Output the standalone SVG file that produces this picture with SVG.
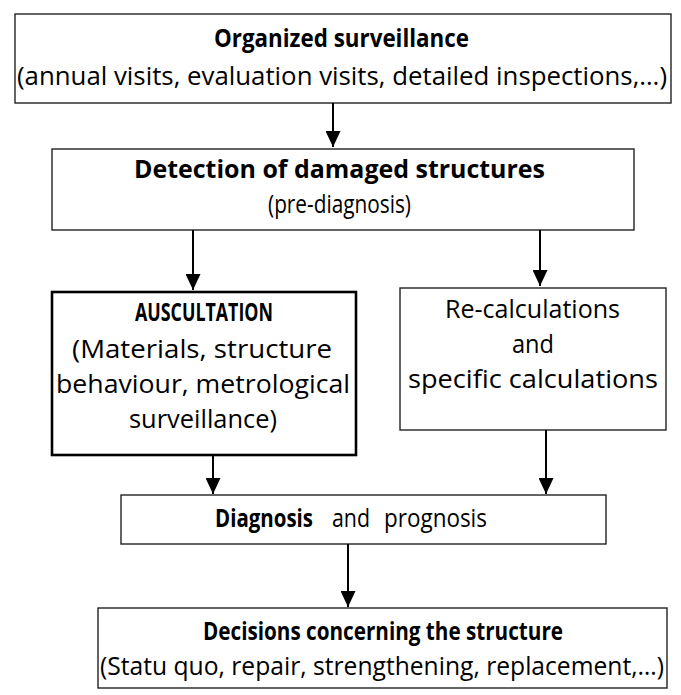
<svg xmlns="http://www.w3.org/2000/svg" width="681" height="695" viewBox="0 0 681 695">
<style>
.box{fill:#fff;stroke:#222;stroke-width:1.4}
.thick{fill:#fff;stroke:#000;stroke-width:2.6}
text{font-family:"Open Sans","Noto Sans","Liberation Sans",sans-serif;font-size:25px;fill:#000}
.b{font-weight:bold}
.conn line{stroke:#000;stroke-width:2}
</style>
<defs>
<marker id="ah" markerUnits="userSpaceOnUse" markerWidth="16" markerHeight="15" refX="16" refY="7.5" orient="auto">
<path d="M0,0 L16,7.5 L0,15 z" fill="#000"/>
</marker>
</defs>
<g id="n1">
<rect class="box" x="15" y="14" width="656" height="89"/>
<text class="b" x="214" y="47" textLength="255" lengthAdjust="spacingAndGlyphs">Organized surveillance</text>
<text x="17" y="85" textLength="650" lengthAdjust="spacingAndGlyphs">(annual visits, evaluation visits, detailed inspections,…)</text>
</g>
<g id="n2">
<rect class="box" x="52" y="149" width="582" height="81"/>
<text class="b" x="134" y="178" textLength="411" lengthAdjust="spacingAndGlyphs">Detection of damaged structures</text>
<text x="268" y="213" textLength="143" lengthAdjust="spacingAndGlyphs">(pre-diagnosis)</text>
</g>
<g id="n3">
<rect class="thick" x="52" y="292" width="304" height="163"/>
<text class="b" x="135" y="321" textLength="138" lengthAdjust="spacingAndGlyphs">AUSCULTATION</text>
<text x="72" y="358" textLength="260" lengthAdjust="spacingAndGlyphs">(Materials, structure</text>
<text x="56" y="393" textLength="294" lengthAdjust="spacingAndGlyphs">behaviour, metrological</text>
<text x="129" y="428" textLength="148" lengthAdjust="spacingAndGlyphs">surveillance)</text>
</g>
<g id="n4">
<rect class="box" x="400" y="288" width="266" height="142"/>
<text x="445" y="318" textLength="175" lengthAdjust="spacingAndGlyphs">Re-calculations</text>
<text x="512" y="353" textLength="42" lengthAdjust="spacingAndGlyphs">and</text>
<text x="408" y="388" textLength="250" lengthAdjust="spacingAndGlyphs">specific calculations</text>
</g>
<g id="n5">
<rect class="box" x="121" y="495" width="485" height="49"/>
<text y="527"><tspan class="b" x="215" textLength="98" lengthAdjust="spacingAndGlyphs">Diagnosis</tspan><tspan x="332" textLength="38" lengthAdjust="spacingAndGlyphs">and</tspan><tspan x="384" textLength="103" lengthAdjust="spacingAndGlyphs">prognosis</tspan></text>
</g>
<g id="n6">
<rect class="box" x="98" y="608" width="569" height="80"/>
<text class="b" x="203" y="640" textLength="360" lengthAdjust="spacingAndGlyphs">Decisions concerning the structure</text>
<text x="100" y="675" textLength="564" lengthAdjust="spacingAndGlyphs">(Statu quo, repair, strengthening, replacement,…)</text>
</g>
<g id="connectors" class="conn">
<line x1="333" y1="103" x2="333" y2="147" marker-end="url(#ah)"/>
<line x1="193" y1="230" x2="193" y2="290" marker-end="url(#ah)"/>
<line x1="540" y1="230" x2="540" y2="286" marker-end="url(#ah)"/>
<line x1="213" y1="456" x2="213" y2="494" marker-end="url(#ah)"/>
<line x1="546" y1="430" x2="546" y2="494" marker-end="url(#ah)"/>
<line x1="348" y1="544" x2="348" y2="607" marker-end="url(#ah)"/>
</g>
</svg>
